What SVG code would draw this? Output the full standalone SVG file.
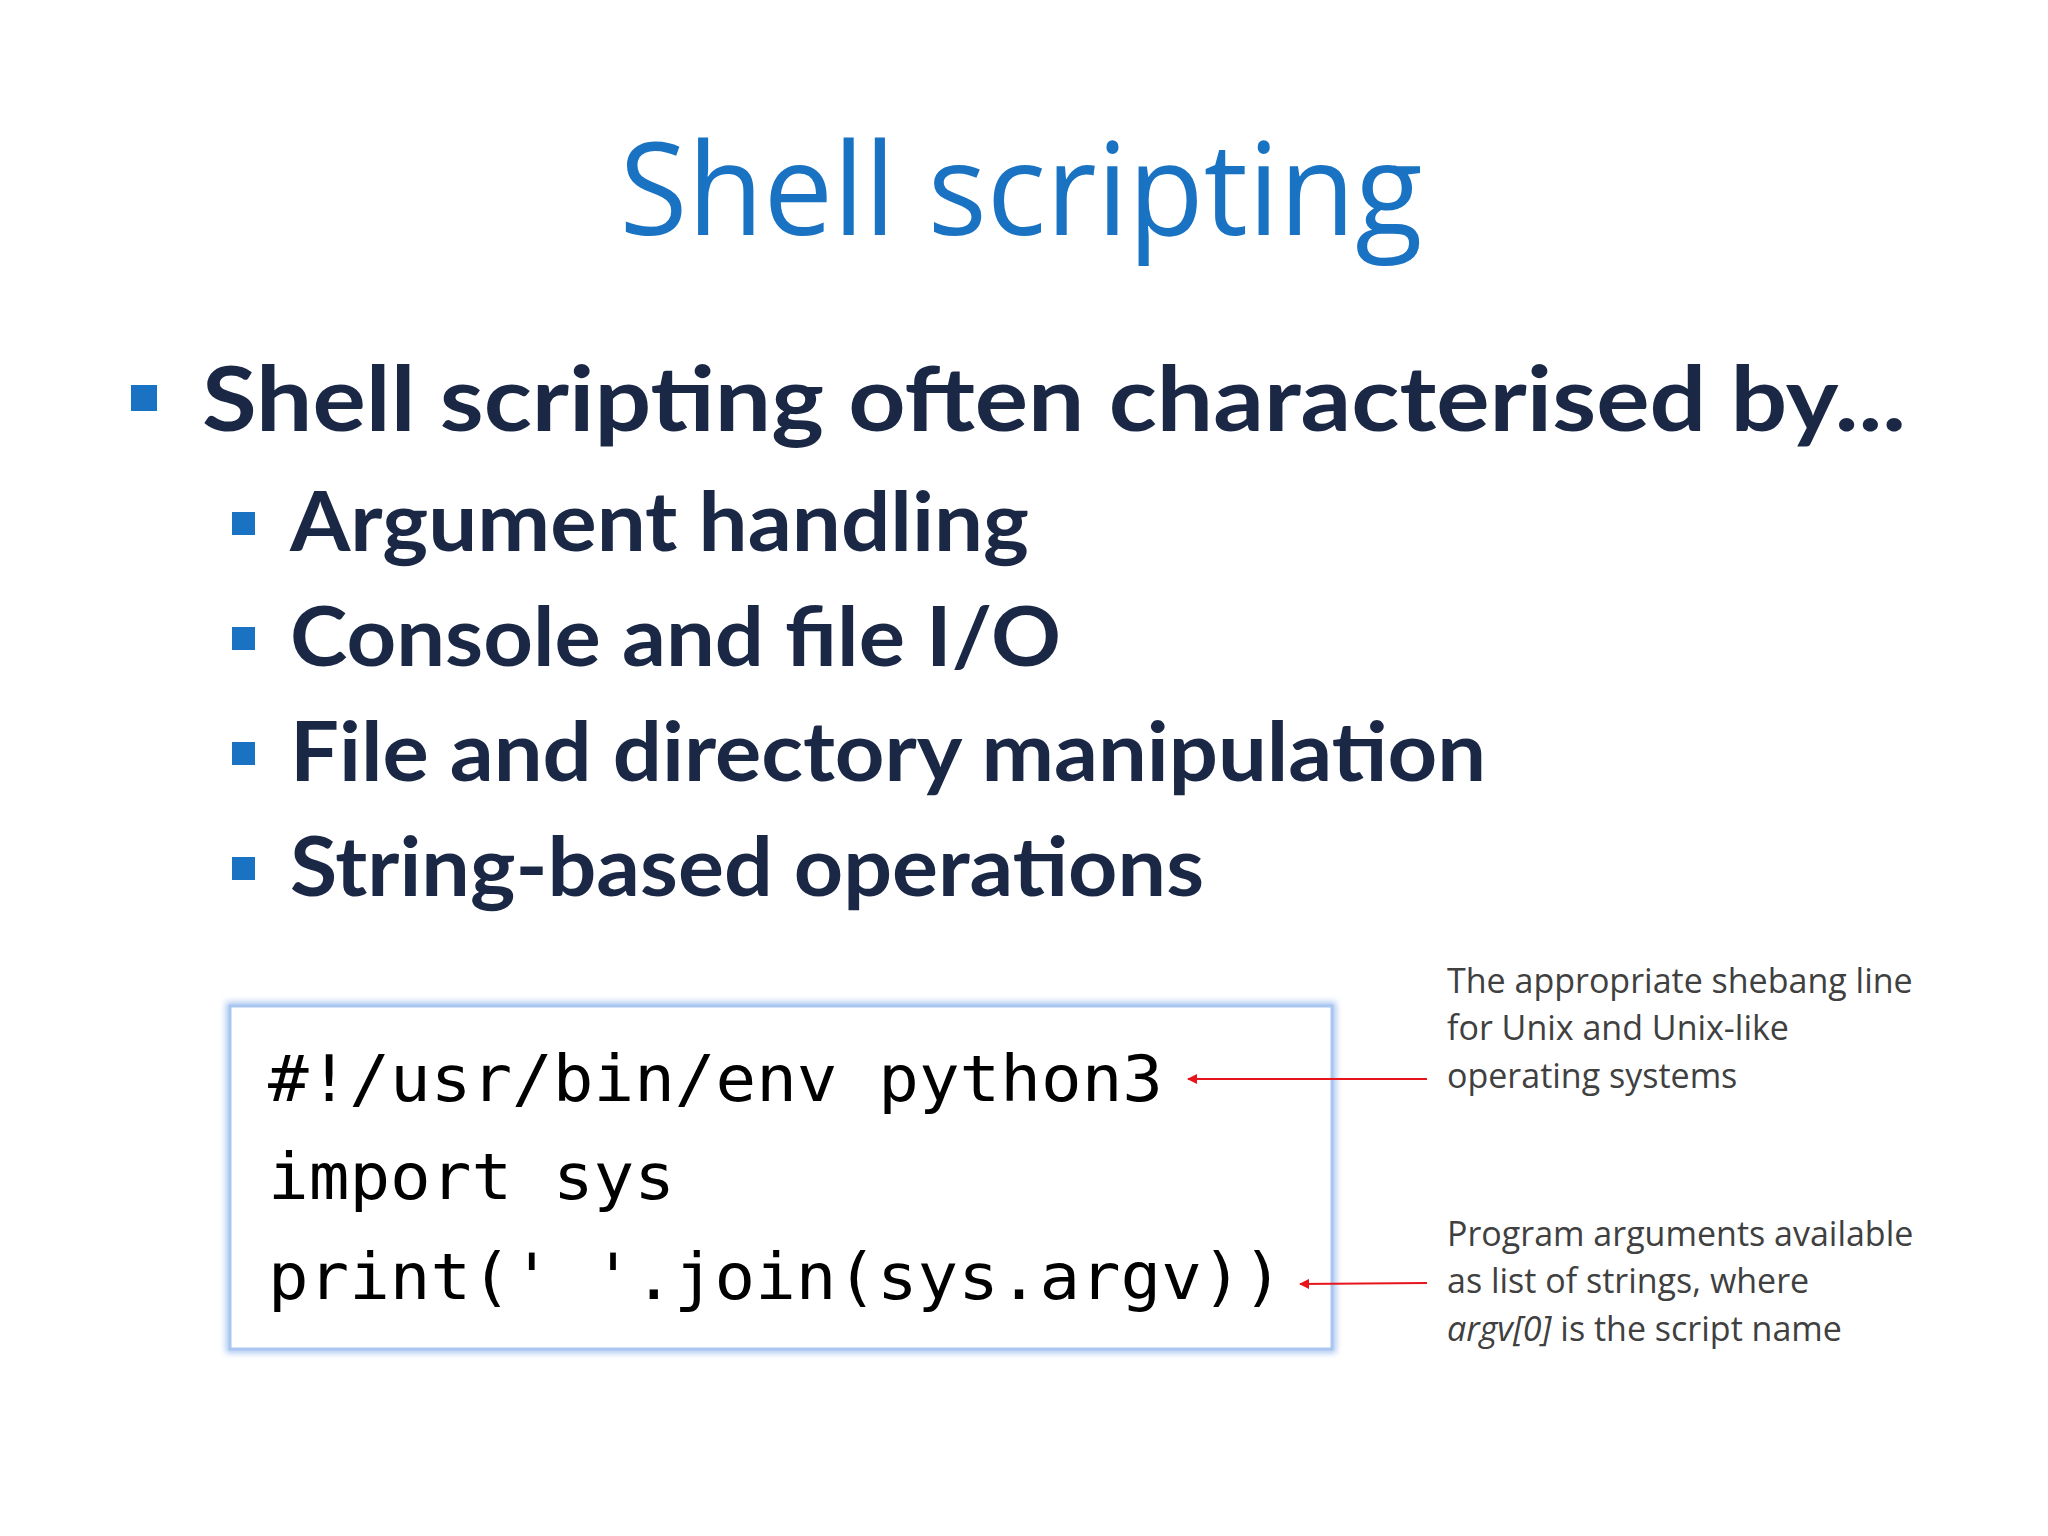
<svg xmlns="http://www.w3.org/2000/svg" width="2048" height="1536" viewBox="0 0 2048 1536">
<style>
.title{font-family:"Open Sans","Liberation Sans",sans-serif;font-size:128px;fill:#1a73c2}
.b1{font-family:"Lato","Liberation Sans",sans-serif;font-weight:bold;font-size:90px;fill:#1a2846}
.b2{font-family:"Lato","Liberation Sans",sans-serif;font-weight:bold;font-size:82px;fill:#1a2846}
.code{font-family:"DejaVu Sans Mono","Liberation Mono",monospace;font-size:64px;fill:#000}
.note{font-family:"Open Sans","Liberation Sans",sans-serif;font-size:34px;fill:#404040}
.bul{fill:#1a73c2}
.conn{stroke:#e8141c;stroke-width:2;fill:none;marker-end:url(#ah)}
</style>
<defs>
<marker id="ah" markerWidth="10" markerHeight="10" refX="9" refY="5" orient="auto" markerUnits="userSpaceOnUse"><path d="M0,0 L10,5 L0,10 z" fill="#e8141c"/></marker>
<filter id="glow" x="-5%" y="-5%" width="110%" height="110%"><feGaussianBlur stdDeviation="3"/></filter>
</defs>
<rect width="2048" height="1536" fill="#fff"/>
<g id="title"><text class="title" x="1021" y="235" text-anchor="middle" textLength="803" lengthAdjust="spacingAndGlyphs">Shell scripting</text></g>
<g id="bullet-main"><rect class="bul" x="131" y="385" width="26" height="26"/><text class="b1" x="202" y="431" textLength="1704" lengthAdjust="spacingAndGlyphs">Shell scripting often characterised by...</text></g>
<g id="bullet-1"><rect class="bul" x="232" y="512" width="23" height="23"/><text class="b2" x="290" y="551" textLength="739" lengthAdjust="spacingAndGlyphs">Argument handling</text></g>
<g id="bullet-2"><rect class="bul" x="232" y="627" width="23" height="23"/><text class="b2" x="290" y="666" textLength="771" lengthAdjust="spacingAndGlyphs">Console and file I/O</text></g>
<g id="bullet-3"><rect class="bul" x="232" y="742" width="23" height="23"/><text class="b2" x="290" y="781" textLength="1196" lengthAdjust="spacingAndGlyphs">File and directory manipulation</text></g>
<g id="bullet-4"><rect class="bul" x="232" y="857" width="23" height="23"/><text class="b2" x="290" y="896" textLength="914" lengthAdjust="spacingAndGlyphs">String-based operations</text></g>
<g id="code-box">
<rect x="230" y="1006" width="1102" height="343" fill="none" stroke="#a9c6f0" stroke-width="8" filter="url(#glow)"/>
<rect x="230" y="1006" width="1102" height="343" fill="#fff" stroke="#a9c6f0" stroke-width="3"/>
<text class="code" x="268" y="1101" textLength="895" lengthAdjust="spacingAndGlyphs" xml:space="preserve">#!/usr/bin/env python3</text>
<text class="code" x="268" y="1199" textLength="407" lengthAdjust="spacingAndGlyphs" xml:space="preserve">import sys</text>
<text class="code" x="268" y="1299" textLength="1015" lengthAdjust="spacingAndGlyphs" xml:space="preserve">print(' '.join(sys.argv))</text>
</g>
<g id="note-1"><text class="note"><tspan x="1447" y="993">The appropriate shebang line</tspan><tspan x="1447" y="1040">for Unix and Unix-like</tspan><tspan x="1447" y="1088">operating systems</tspan></text></g>
<g id="note-2"><text class="note"><tspan x="1447" y="1246">Program arguments available</tspan><tspan x="1447" y="1293">as list of strings, where</tspan><tspan x="1447" y="1341"><tspan font-style="italic">argv[0]</tspan> is the script name</tspan></text></g>
<g id="connectors">
<line class="conn" x1="1427" y1="1079" x2="1188" y2="1079"/>
<line class="conn" x1="1427" y1="1283" x2="1300" y2="1284"/>
</g>
</svg>
